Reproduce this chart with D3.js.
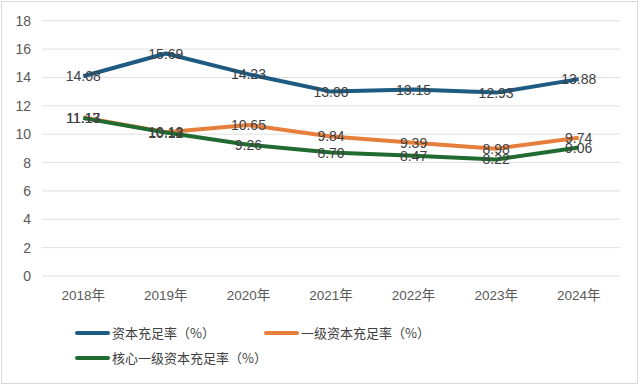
<!DOCTYPE html>
<html>
<head>
<meta charset="utf-8">
<script src="https://cdn.jsdelivr.net/npm/d3@7"></script>
<style>
  body { margin: 0; background: #fff; }
  text { font-family: "Liberation Sans", "Noto Sans CJK SC", sans-serif; }
</style>
</head>
<body>
<div id="root"></div>
<script>
// chart data
const years = ["2018年", "2019年", "2020年", "2021年", "2022年", "2023年", "2024年"];
const seriesNames = ["资本充足率（%）", "一级资本充足率（%）", "核心一级资本充足率（%）"];
const capitalRatio = [14.08, 15.69, 14.23, 13.00, 13.15, 12.93, 13.88];
const tier1Ratio = [11.17, 10.13, 10.65, 9.84, 9.39, 8.98, 9.74];
const coreTier1Ratio = [11.13, 10.12, 9.26, 8.70, 8.47, 8.22, 9.06];
const yTicks = [0, 2, 4, 6, 8, 10, 12, 14, 16, 18];

const colors = ["#1d5b82", "#e67e3c", "#1f6b30"];
const allSeries = [capitalRatio, tier1Ratio, coreTier1Ratio];

const width = 640, height = 385;

const svg = d3.select("#root").append("svg")
  .attr("width", width)
  .attr("height", height);

// outer frame
svg.append("rect")
  .attr("x", 1.5).attr("y", 1.5)
  .attr("width", width - 4).attr("height", height - 3)
  .attr("fill", "#fff")
  .attr("stroke", "#d9d9d9");

const x = d3.scaleBand().domain(years).range([42, 620]);
const y = d3.scaleLinear().domain([0, 18]).range([276, 20.7]);

// gridlines
svg.append("g").selectAll("line")
  .data(yTicks)
  .enter().append("line")
  .attr("x1", 42).attr("x2", 620)
  .attr("y1", d => y(d)).attr("y2", d => y(d))
  .attr("stroke", "#e0e0e0")
  .attr("stroke-width", 1);

// y axis labels
const yAxis = d3.axisLeft(y).tickValues(yTicks).tickSize(0).tickPadding(0);
svg.append("g")
  .attr("transform", "translate(31,0)")
  .call(yAxis)
  .call(g => g.select(".domain").remove())
  .call(g => g.selectAll("text").attr("font-size", "14px").attr("fill", "#595959")
    .style("font-family", "'Liberation Sans', sans-serif"));

// x axis labels
const xAxis = d3.axisBottom(x).tickSize(0).tickPadding(0);
svg.append("g")
  .attr("transform", "translate(0,290)")
  .call(xAxis)
  .call(g => g.select(".domain").remove())
  .call(g => g.selectAll("text").attr("font-size", "13.5px").attr("fill", "#595959")
    .style("font-family", "'Liberation Sans', 'Noto Sans CJK SC', sans-serif"));

const cx = d => x(d) + x.bandwidth() / 2;

const line = d3.line()
  .x((d, i) => cx(years[i]))
  .y(d => y(d));

// lines
allSeries.forEach((s, k) => {
  svg.append("path")
    .datum(s)
    .attr("fill", "none")
    .attr("stroke", colors[k])
    .attr("stroke-width", 4)
    .attr("stroke-linejoin", "round")
    .attr("d", line);
});

// data labels (centered on the points)
allSeries.forEach(s => {
  svg.append("g").selectAll("text")
    .data(s)
    .enter().append("text")
    .attr("x", (d, i) => cx(years[i]))
    .attr("y", d => y(d))
    .attr("dy", "0.36em")
    .attr("text-anchor", "middle")
    .attr("font-size", "14px")
    .attr("fill", "#404040")
    .text(d => d.toFixed(2));
});

// legend
const legendPos = [[77, 333], [266, 333], [77, 358]];
seriesNames.forEach((name, k) => {
  const g = svg.append("g").attr("transform", "translate(" + legendPos[k][0] + "," + legendPos[k][1] + ")");
  g.append("line")
    .attr("x1", 0).attr("x2", 31)
    .attr("stroke", colors[k])
    .attr("stroke-width", 4)
    .attr("stroke-linecap", "round");
  g.append("text")
    .attr("x", 35)
    .attr("dy", "0.36em")
    .attr("font-size", "13px")
    .attr("fill", "#404040")
    .style("font-family", "'Noto Sans CJK SC', sans-serif")
    .text(name);
});
</script>
</body>
</html>
